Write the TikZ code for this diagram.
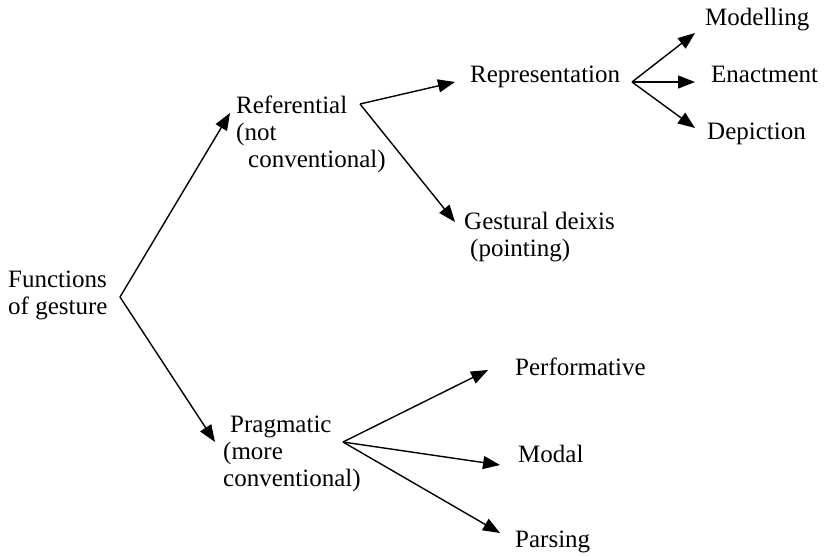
\documentclass[tikz,border=0pt]{standalone}
\usepackage{fontspec}
\setmainfont{Liberation Serif}
\usepackage{tikz}
\usetikzlibrary{arrows.meta,positioning}
\tikzstyle{arrow} = [line width=1.4pt,-{Triangle[length=17pt,width=13pt]}]
\tikzstyle{term} = [anchor=north west, inner sep=0pt, align=left, font=\fontsize{25}{27}\selectfont]

\begin{document}
\begin{tikzpicture}[x=1pt, y=-1pt]
\useasboundingbox (0,0) rectangle (828,555);
% Root
\node (functions) [term] at (8,271) {Functions\\of gesture};

% Referential branch
\node (referential) [term] at (236,96) {Referential\\(not\\\hspace*{12pt}conventional)};
\node (representation) [term] at (470,66) {Representation};
\node (gestural) [term] at (464,212) {Gestural deixis\\\hspace*{6pt}(pointing)};
\node (modelling) [term] at (705,8) {Modelling};
\node (enactment) [term] at (711,66) {Enactment};
\node (depiction) [term] at (707,123) {Depiction};

% Pragmatic branch
\node (pragmatic) [term] at (223,416) {\hspace*{7pt}Pragmatic\\(more\\conventional)};
\node (performative) [term] at (515,358) {Performative};
\node (modal) [term] at (518,445) {Modal};
\node (parsing) [term] at (515,531) {Parsing};

% Arrows
\draw[arrow] ([shift={(112,26)}]functions.north west) -- ([shift={(-6,17)}]referential.north west);
\draw[arrow] ([shift={(112,26)}]functions.north west) -- ([shift={(-8,26)}]pragmatic.north west);
\draw[arrow] ([shift={(124,8)}]referential.north west) -- ([shift={(-15,16)}]representation.north west);
\draw[arrow] ([shift={(124,8)}]referential.north west) -- ([shift={(-9,10)}]gestural.north west);
\draw[arrow] ([shift={(162,16)}]representation.north west) -- ([shift={(-10,25)}]modelling.north west);
\draw[arrow] ([shift={(162,16)}]representation.north west) -- ([shift={(-16,16)}]enactment.north west);
\draw[arrow] ([shift={(162,16)}]representation.north west) -- ([shift={(-12,5)}]depiction.north west);
\draw[arrow] ([shift={(120,26)}]pragmatic.north west) -- ([shift={(-27,12)}]performative.north west);
\draw[arrow] ([shift={(120,26)}]pragmatic.north west) -- ([shift={(-18,20)}]modal.north west);
\draw[arrow] ([shift={(120,26)}]pragmatic.north west) -- ([shift={(-15,2)}]parsing.north west);
\end{tikzpicture}
\end{document}
